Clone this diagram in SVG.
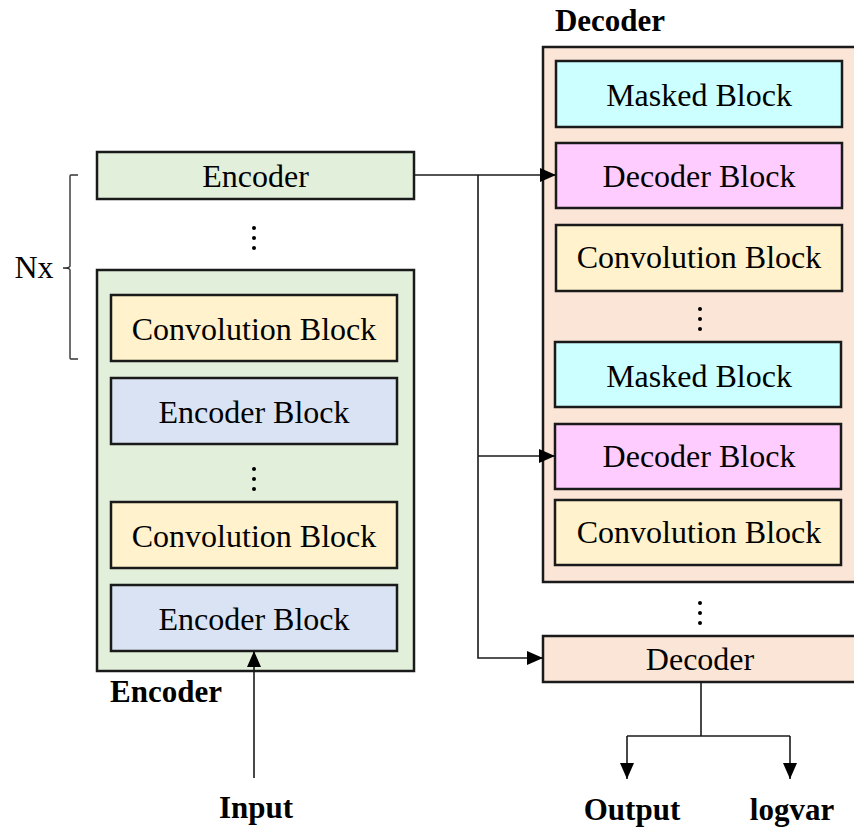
<svg xmlns="http://www.w3.org/2000/svg" width="854" height="828" viewBox="0 0 854 828">
  <style>
    .box { stroke: #1a1a1a; stroke-width: 2.5; }
    .enc { fill: #E2EFDA; }
    .conv { fill: #FFF2CC; }
    .encb { fill: #DAE3F3; }
    .mask { fill: #CCFFFF; }
    .decb { fill: #FFCCFF; }
    .dec { fill: #FBE5D6; }
    .t { font-family: "Liberation Serif", "Times New Roman", serif; font-size: 32px; fill: #000; text-anchor: middle; }
    .b { font-weight: bold; font-size: 31px; }
    .wire { fill: none; stroke: #1a1a1a; stroke-width: 1.6; }
    .dot { fill: #000; }
  </style>
  <defs>
    <marker id="arrow" markerUnits="userSpaceOnUse" markerWidth="16" markerHeight="14" refX="16" refY="7" orient="auto">
      <path d="M0,0 L16,7 L0,14 Z" fill="#000"/>
    </marker>
  </defs>

  <!-- Nx bracket -->
  <g id="repeat-bracket">
    <path d="M78,175 L71,175 Q70,175 70,176 L70,266 Q70,268 63,268 Q70,268 70,270 L70,358 Q70,359 71,359 L78,359" fill="none" stroke="#333" stroke-width="1.4"/>
    <text class="t" x="34" y="278">Nx</text>
  </g>

  <!-- Encoder stack -->
  <g id="encoder-top">
    <rect class="box enc" x="97" y="152" width="317" height="47"/>
    <text class="t" x="255.5" y="187">Encoder</text>
  </g>
  <g id="encoder-dots-top">
    <circle class="dot" cx="254" cy="228" r="2"/>
    <circle class="dot" cx="254" cy="238" r="2"/>
    <circle class="dot" cx="254" cy="248" r="2"/>
  </g>
  <g id="encoder">
    <rect class="box enc" x="97" y="270" width="317" height="401"/>
    <text class="t b" x="166" y="702">Encoder</text>
  </g>
  <g id="enc-conv-1">
    <rect class="box conv" x="111" y="295" width="286" height="66"/>
    <text class="t" x="254" y="340">Convolution Block</text>
  </g>
  <g id="enc-block-1">
    <rect class="box encb" x="111" y="378" width="286" height="66"/>
    <text class="t" x="254" y="423">Encoder Block</text>
  </g>
  <g id="encoder-dots-inner">
    <circle class="dot" cx="254" cy="469" r="2"/>
    <circle class="dot" cx="254" cy="479" r="2"/>
    <circle class="dot" cx="254" cy="489" r="2"/>
  </g>
  <g id="enc-conv-2">
    <rect class="box conv" x="111" y="502" width="286" height="66"/>
    <text class="t" x="254" y="547">Convolution Block</text>
  </g>
  <g id="enc-block-2">
    <rect class="box encb" x="111" y="585" width="286" height="66"/>
    <text class="t" x="254" y="630">Encoder Block</text>
  </g>

  <!-- Decoder stack -->
  <g id="decoder">
    <rect class="box dec" x="543" y="47" width="320" height="535"/>
    <text class="t b" x="610" y="31">Decoder</text>
  </g>
  <g id="dec-mask-1">
    <rect class="box mask" x="556" y="61" width="286" height="66"/>
    <text class="t" x="699" y="106">Masked Block</text>
  </g>
  <g id="dec-block-1">
    <rect class="box decb" x="556" y="143" width="286" height="65"/>
    <text class="t" x="699" y="187">Decoder Block</text>
  </g>
  <g id="dec-conv-1">
    <rect class="box conv" x="556" y="225" width="286" height="66"/>
    <text class="t" x="699" y="268">Convolution Block</text>
  </g>
  <g id="decoder-dots-inner">
    <circle class="dot" cx="700" cy="309" r="2"/>
    <circle class="dot" cx="700" cy="319" r="2"/>
    <circle class="dot" cx="700" cy="329" r="2"/>
  </g>
  <g id="dec-mask-2">
    <rect class="box mask" x="555" y="342" width="286" height="65"/>
    <text class="t" x="699" y="387">Masked Block</text>
  </g>
  <g id="dec-block-2">
    <rect class="box decb" x="555" y="424" width="286" height="65"/>
    <text class="t" x="699" y="467">Decoder Block</text>
  </g>
  <g id="dec-conv-2">
    <rect class="box conv" x="555" y="500" width="286" height="65"/>
    <text class="t" x="699" y="543">Convolution Block</text>
  </g>
  <g id="decoder-dots-outer">
    <circle class="dot" cx="700" cy="603" r="2"/>
    <circle class="dot" cx="700" cy="613" r="2"/>
    <circle class="dot" cx="700" cy="623" r="2"/>
  </g>
  <g id="decoder-bottom">
    <rect class="box dec" x="543" y="636" width="320" height="46"/>
    <text class="t" x="700" y="670">Decoder</text>
  </g>

  <!-- Outputs and input labels -->
  <g id="input">
    <text class="t b" x="256" y="818">Input</text>
  </g>
  <g id="output">
    <text class="t b" x="632" y="820">Output</text>
  </g>
  <g id="logvar">
    <text class="t b" x="792" y="820">logvar</text>
  </g>

  <!-- Connectors -->
  <g id="connectors">
    <path class="wire" d="M414,175 L556,175" marker-end="url(#arrow)"/>
    <path class="wire" d="M478,175 L478,658 L543,658" marker-end="url(#arrow)"/>
    <path class="wire" d="M478,456 L555,456" marker-end="url(#arrow)"/>
    <path class="wire" d="M254,778 L254,651" marker-end="url(#arrow)"/>
    <path class="wire" d="M701,682 L701,736"/>
    <path class="wire" d="M627,736 L790,736"/>
    <path class="wire" d="M627,736 L627,779" marker-end="url(#arrow)"/>
    <path class="wire" d="M790,736 L790,779" marker-end="url(#arrow)"/>
  </g>
</svg>
